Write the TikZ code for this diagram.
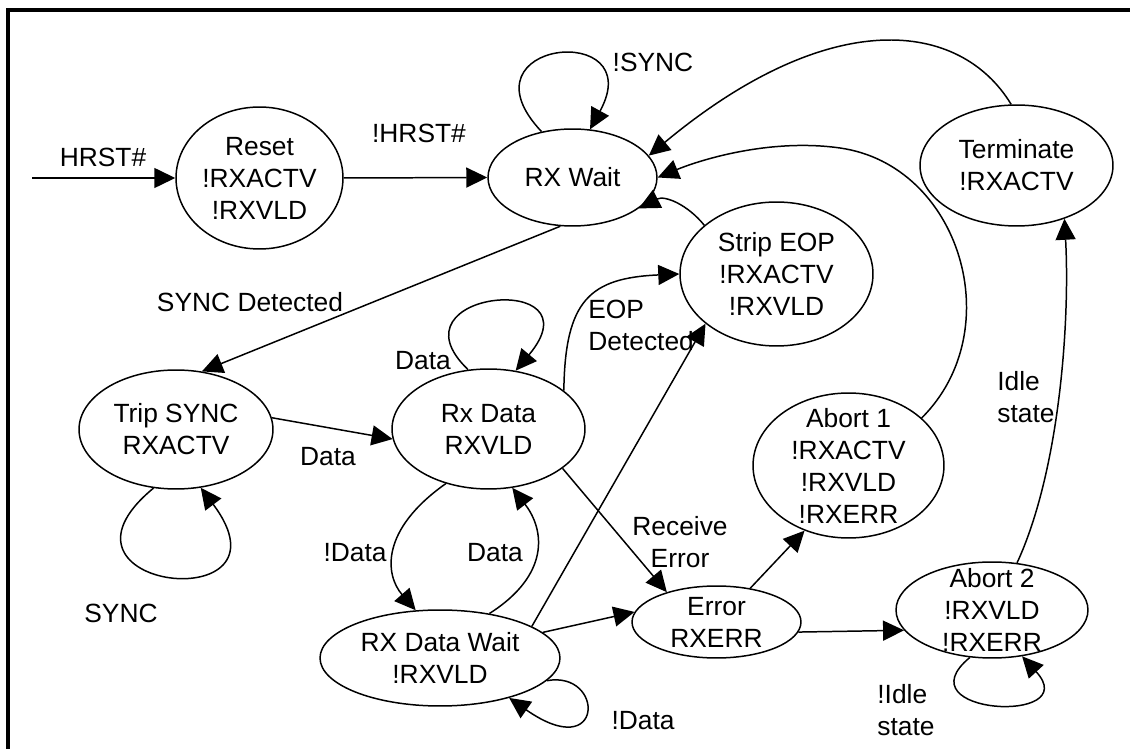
\documentclass[tikz,border=0pt]{standalone}
\usepackage{fontspec}
\setmainfont{Liberation Sans}
\usetikzlibrary{arrows.meta,shapes.geometric}
\tikzset{
    %Define standard arrow tip
    >={Triangle[length=0.42cm,width=0.4cm]},
    %Define style for states
    state/.style={
           ellipse,
           draw=black,
           line width=0.85pt,
           inner sep=0pt},
    statetext/.style={
           align=center,
           inner sep=0pt,
           font=\fontsize{15}{18.2}\selectfont},
    %Define style for transition labels
    lbl/.style={
           align=center,
           inner sep=0pt,
           font=\fontsize{15}{18.2}\selectfont},
    % Define arrow style
    pil/.style={
           ->,
           line width=0.85pt}
}

\begin{document}
\begin{tikzpicture}[x=0.02cm,y=-0.02cm]
\useasboundingbox (0,0) rectangle (1130,749);
\draw[line width=2.27pt] (1140,10.3) -- (8,10.3) -- (8,760);

% states
\node[state, minimum width=3.34cm, minimum height=2.84cm, label={[statetext]center:Reset\\!RXACTV\\!RXVLD}] (reset) at (259.5,178) {};
\node[state, minimum width=3.38cm, minimum height=1.94cm, label={[statetext]center:RX Wait}] (wait) at (572.5,177.5) {};
\node[state, minimum width=3.86cm, minimum height=2.42cm, label={[statetext]center:Terminate\\!RXACTV}] (term) at (1016.5,165.5) {};
\node[state, minimum width=3.86cm, minimum height=2.88cm, label={[statetext]center:Strip EOP\\!RXACTV\\!RXVLD}] (strip) at (776.5,274) {};
\node[state, minimum width=3.88cm, minimum height=2.38cm, label={[statetext]center:Trip SYNC\\RXACTV}] (trip) at (176,429.5) {};
\node[state, minimum width=3.86cm, minimum height=2.40cm, label={[statetext]center:Rx Data\\RXVLD}] (rxdata) at (488.5,429) {};
\node[state, minimum width=4.80cm, minimum height=1.92cm, label={[statetext]center:RX Data Wait\\!RXVLD}] (dwait) at (440,658) {};
\node[state, minimum width=3.38cm, minimum height=1.44cm, label={[statetext]center:Error\\RXERR}] (error) at (716.5,622) {};
\node[state, minimum width=3.82cm, minimum height=2.90cm, label={[statetext]center:Abort 1\\!RXACTV\\!RXVLD\\!RXERR}] (abort1) at (848.5,465.5) {};
\node[state, minimum width=3.84cm, minimum height=1.92cm, label={[statetext]center:Abort 2\\!RXVLD\\!RXERR}] (abort2) at (992,610) {};
\coordinate (start) at (32,178);

% transition labels
\node[lbl] (lhrst) at (103,157) {HRST\#};
\node[lbl] (lnhrst) at (419,133) {!HRST\#};
\node[lbl] (lnsync) at (653,62) {!SYNC};
\node[lbl] (lsyncdet) at (250,302) {SYNC Detected};
\node[lbl] (lsync) at (121,613) {SYNC};
\node[lbl] (ldata1) at (328,457) {Data};
\node[lbl] (ldata2) at (423,361) {Data};
\node[lbl, anchor=west, align=left] (leop) at (588,325) {EOP\\Detected};
\node[lbl] (lndata1) at (355,553) {!Data};
\node[lbl] (ldata3) at (495,553) {Data};
\node[lbl] (lrecv) at (680,542) {Receive\\Error};
\node[lbl] (lndata2) at (643,721) {!Data};
\node[lbl, anchor=west, align=left] (lidle) at (997,397) {Idle\\state};
\node[lbl, anchor=west, align=left] (lnidle) at (877,710) {!Idle\\state};

% straight transitions
\path[pil]
    (start) edge (reset.west)
    (reset.east) edge (wait.west)
    (wait.-104) edge (trip.66)
    (trip.7) edge (rxdata.186)
    (dwait.19) edge (strip.-145)
    (rxdata.-28) edge (error.149)
    (dwait.14) edge (error.173)
    (error.45) edge (abort1.-124)
    (error.-7) edge (abort2.-167);

% curved transitions and loops
\draw[pil] (wait.124) .. controls (455,40) and (650,20) .. (wait.70);
\draw[pil] (term.95) .. controls (960,20) and (830,5) .. (wait.16);
\draw[pil] (abort1.33) .. controls (1010,330) and (960,165) .. (840,148) .. controls (770,138) and (700,160) .. (wait.east);
\draw[pil] (strip.146) .. controls (688,205) and (665,195) .. (wait.-25);
\draw[pil] (trip.-111) .. controls (30,590) and (300,620) .. (trip.-67);
\draw[pil] (rxdata.109) .. controls (385,290) and (600,270) .. (rxdata.65);
\draw[pil] (rxdata.27) .. controls (565,300) and (590,278) .. (strip.west);
\draw[pil] (rxdata.-128) .. controls (380,530) and (385,575) .. (dwait.117);
\draw[pil] (dwait.42) .. controls (550,575) and (545,530) .. (rxdata.-68);
\draw[pil] (dwait.-12) .. controls (605,670) and (605,765) .. (dwait.-30);
\draw[pil] (abort2.62) .. controls (1060,470) and (1070,320) .. (term.-48);
\draw[pil] (abort2.-115) .. controls (900,715) and (1085,725) .. (abort2.-57);
\end{tikzpicture}
\end{document}
